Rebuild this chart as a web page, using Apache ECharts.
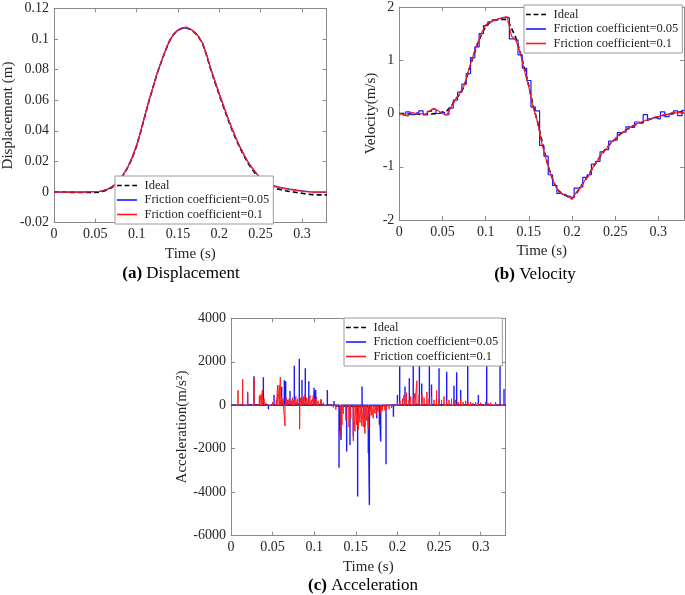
<!DOCTYPE html>
<html><head><meta charset="utf-8">
<script src="https://cdn.jsdelivr.net/npm/echarts@6/dist/echarts.min.js"></script>
<style>html,body{margin:0;padding:0;background:#fff}#c{width:685px;height:595px}</style>
</head><body><div id="c"></div>
<script>
// ---------- DATA ----------
const seriesNames = ['Ideal', 'Friction coefficient=0.05', 'Friction coefficient=0.1'];
const timeMax = 0.33;

// (a) Displacement (m)
const dispT = [0,0.005,0.01,0.015,0.02,0.025,0.03,0.035,0.04,0.045,0.05,0.055,0.06,0.065,0.07,0.075,0.08,0.085,0.09,0.095,0.1,0.105,0.11,0.115,0.12,0.125,0.13,0.135,0.14,0.145,0.15,0.155,0.16,0.165,0.17,0.175,0.18,0.185,0.19,0.195,0.2,0.205,0.21,0.215,0.22,0.225,0.23,0.235,0.24,0.245,0.25,0.255,0.26,0.265,0.27,0.275,0.28,0.285,0.29,0.295,0.3,0.305,0.31,0.315,0.32,0.325,0.33];
const dispIdeal = [0,0,0,-0.0001,-0.0002,-0.0002,-0.0003,-0.0003,-0.0003,-0.0003,-0.0002,0,0.0006,0.0016,0.003,0.005,0.008,0.012,0.0168,0.0228,0.0303,0.0397,0.0497,0.0597,0.0688,0.0778,0.0853,0.0925,0.099,0.1032,0.1057,0.107,0.1073,0.1062,0.1042,0.1012,0.0966,0.0885,0.0794,0.0713,0.0633,0.0557,0.0482,0.0412,0.0347,0.0287,0.0235,0.0186,0.0147,0.0112,0.008,0.0057,0.0041,0.003,0.0021,0.0015,0.0009,0.0004,0,-0.0004,-0.0008,-0.0012,-0.0015,-0.0017,-0.0018,-0.0018,-0.0018];
const dispF005 = [0,0,0,0,0,0,0,0,0.0001,0.0002,0.0003,0.0005,0.001,0.002,0.0035,0.0055,0.0085,0.0125,0.0172,0.0232,0.0306,0.04,0.05,0.06,0.069,0.078,0.0855,0.0927,0.0991,0.1032,0.1057,0.1069,0.1072,0.1064,0.1045,0.1015,0.097,0.089,0.08,0.072,0.064,0.0565,0.049,0.042,0.0355,0.0295,0.0243,0.0195,0.0157,0.0122,0.009,0.0068,0.0053,0.0044,0.0036,0.003,0.0025,0.002,0.0016,0.0012,0.0008,0.0005,0.0002,0,-0.0001,-0.0001,0];
const dispF01 = [0,0,0,0,0,0,0,0,0.0001,0.0002,0.0003,0.0005,0.001,0.002,0.0035,0.0055,0.0085,0.0125,0.0172,0.0232,0.0306,0.04,0.05,0.06,0.069,0.078,0.0855,0.0928,0.0993,0.1035,0.106,0.1073,0.1077,0.1065,0.1045,0.1015,0.097,0.089,0.08,0.072,0.064,0.0565,0.049,0.042,0.0355,0.0295,0.0243,0.0193,0.0155,0.012,0.0088,0.0065,0.005,0.004,0.0032,0.0026,0.0021,0.0017,0.0013,0.0009,0.0006,0.0003,0.0001,0,-0.0001,-0.0001,0];

// (b) Velocity (m/s)
const velT = dispT;
const velIdeal = [0,0,-0.01,0,-0.01,-0.02,-0.02,-0.02,0,-0.01,0.03,0.05,0.13,0.26,0.37,0.5,0.78,1.04,1.28,1.48,1.63,1.71,1.75,1.76,1.77,1.76,1.6,1.42,1.15,0.85,0.52,0.15,-0.15,-0.5,-0.85,-1.12,-1.33,-1.46,-1.52,-1.56,-1.6,-1.5,-1.38,-1.26,-1.14,-0.99,-0.87,-0.75,-0.65,-0.56,-0.48,-0.4,-0.34,-0.29,-0.24,-0.2,-0.17,-0.14,-0.11,-0.08,-0.06,-0.04,-0.015,0,0.01,0.03,0.04];
const velF005 = [0,-0.03,0.03,-0.02,0.01,0.05,-0.02,0.04,0.08,0,0.02,-0.02,0.1,0.25,0.4,0.55,0.75,1.05,1.25,1.5,1.65,1.72,1.76,1.78,1.8,1.8,1.4,1.38,1.1,0.85,0.62,0.12,0.05,-0.6,-0.8,-1.15,-1.35,-1.5,-1.52,-1.55,-1.58,-1.4,-1.38,-1.2,-1.15,-0.95,-0.9,-0.72,-0.68,-0.52,-0.5,-0.36,-0.35,-0.25,-0.26,-0.16,-0.18,-0.02,-0.1,-0.08,-0.1,0.03,-0.06,-0.01,0.05,-0.04,0.06];
const velF01 = [0,-0.02,-0.05,0.02,-0.01,0,-0.02,0.05,0.1,0.05,0,-0.03,0.12,0.27,0.37,0.52,0.8,1.06,1.3,1.5,1.66,1.72,1.75,1.78,1.8,1.82,1.45,1.38,1.15,0.8,0.5,0.12,-0.15,-0.55,-0.85,-1.12,-1.33,-1.47,-1.52,-1.56,-1.61,-1.48,-1.4,-1.25,-1.16,-0.98,-0.88,-0.74,-0.66,-0.55,-0.48,-0.39,-0.34,-0.28,-0.24,-0.19,-0.17,-0.13,-0.11,-0.07,-0.06,-0.03,-0.02,0.01,0.01,0.02,0.02];

// (c) Acceleration (m/s^2): spike times and peak values
const accIdealT = [0,0.05,0.08,0.11,0.13,0.16,0.19,0.22,0.26,0.3,0.33];
const accIdealV = [0,10,45,25,-30,-60,-10,30,15,5,0];
const accF005T = [0.0200,0.0276,0.0389,0.0449,0.0517,0.0609,0.0641,0.0657,0.0709,0.0761,0.0821,0.0853,0.0893,0.0935,0.0998,0.1018,0.1082,0.1158,0.1238,0.1298,0.1322,0.1390,0.1430,0.1470,0.1522,0.1575,0.1610,0.1650,0.1663,0.1751,0.1783,0.1799,0.1863,0.1952,0.2000,0.2027,0.2091,0.2143,0.2190,0.2264,0.2292,0.2384,0.2410,0.2500,0.2592,0.2680,0.2712,0.2760,0.2845,0.2973,0.3073,0.3233,0.3281];
const accF005V = [550,1330,1290,-180,470,850,1150,1100,660,1820,2140,1160,1700,1100,800,700,275,704,200,-2870,-1600,-2130,-1825,-1440,-4200,860,-980,-2200,-4590,-600,-900,-1670,-2715,-525,475,2400,860,1240,2300,2300,1000,2300,950,1700,1545,900,1520,700,2300,475,2300,2300,750];
const accF01T = [0.0084,0.0140,0.0200,0.0276,0.0341,0.0361,0.0377,0.0400,0.0420,0.0440,0.0470,0.0500,0.0545,0.0561,0.0581,0.0593,0.0610,0.0630,0.0649,0.0665,0.0680,0.0700,0.0720,0.0740,0.0760,0.0780,0.0800,0.0825,0.0840,0.0855,0.0870,0.0890,0.0910,0.0930,0.0950,0.0970,0.0990,0.1010,0.1030,0.1050,0.1080,0.1110,0.1150,0.1190,0.1230,0.1260,0.1322,0.1335,0.1350,0.1380,0.1418,0.1440,0.1470,0.1490,0.1510,0.1530,0.1550,0.1570,0.1590,0.1610,0.1630,0.1650,0.1670,0.1690,0.1710,0.1730,0.1750,0.1770,0.1800,0.1820,0.1850,0.1870,0.1900,0.1930,0.1960,0.2000,0.2030,0.2060,0.2080,0.2110,0.2140,0.2160,0.2190,0.2210,0.2234,0.2260,0.2294,0.2320,0.2354,0.2380,0.2410,0.2440,0.2470,0.2500,0.2530,0.2560,0.2590,0.2620,0.2650,0.2680,0.2700,0.2730,0.2760,0.2790,0.2820,0.2850,0.2880,0.2910,0.2940,0.2970,0.3000,0.3030,0.3060,0.3090,0.3120,0.3150,0.3180,0.3210,0.3240,0.3270,0.3300];
const accF01V = [690,1200,620,1290,440,500,700,300,120,-80,-40,150,230,930,920,1290,360,300,-950,350,250,300,200,350,280,400,300,-1100,350,250,400,500,350,300,450,250,480,300,380,200,250,120,80,60,-100,-200,-1450,-900,-400,-700,-1000,-600,-1640,-1200,-900,-1130,-800,-950,-1000,-1300,-700,-1070,-500,-460,-600,-380,-460,-300,-350,-250,-240,-200,-180,-120,-60,150,200,300,480,580,250,400,300,550,1130,450,500,350,610,300,400,250,690,300,250,400,200,250,300,200,250,150,300,150,200,120,150,100,150,100,120,80,150,100,120,80,150,60,100,50,30];

// ---------- CHART ----------
const FONT = 'Liberation Serif';
const AX = '#8a8a8a', TXT = '#262626';
const grids = [
  {left: 50.3, top: 8.3, width: 276.4, height: 214.4},
  {left: 399.3, top: 6.7, width: 284.9, height: 213.3},
  {left: 231, top: 318.3, width: 274.6, height: 217.4}
];
const fmt = v => String(Math.round(v * 1000) / 1000);
function xAxes(gi){
  const base = {type:'value', gridIndex: gi, min: 0, max: timeMax, interval: 0.05,
    axisLine:{show:true, onZero:false, lineStyle:{color:AX, width:1}},
    axisTick:{show:true, inside:true, length:4, lineStyle:{color:AX}},
    splitLine:{show:false}};
  return [
    Object.assign({}, base, {position:'bottom',
      axisLabel:{fontFamily:FONT, fontSize:14, color:TXT, margin:5, showMaxLabel:false, formatter: fmt},
      name:'Time (s)', nameLocation:'middle', nameGap:24,
      nameTextStyle:{fontFamily:FONT, fontSize:15, color:TXT}}),
    Object.assign({}, base, {position:'top', axisLabel:{show:false}})
  ];
}
function yAxes(gi, min, max, interval, name, gap){
  const base = {type:'value', gridIndex: gi, min, max, interval,
    axisLine:{show:true, onZero:false, lineStyle:{color:AX, width:1}},
    axisTick:{show:true, inside:true, length:4, lineStyle:{color:AX}},
    splitLine:{show:false}};
  return [
    Object.assign({}, base, {position:'left',
      axisLabel:{fontFamily:FONT, fontSize:14, color:TXT, margin:5, formatter: fmt},
      name, nameLocation:'middle', nameGap:gap,
      nameTextStyle:{fontFamily:FONT, fontSize:15, color:TXT}}),
    Object.assign({}, base, {position:'right', axisLabel:{show:false}})
  ];
}
const pair = (ts, vs) => ts.map((t, i) => [t, vs[i]]);
function stems(ts, vs){
  const d = [[0, 0]];
  ts.forEach((t, i) => { d.push([t, 0], [t, vs[i]], [t, 0]); });
  d.push([timeMax, 0]);
  return d;
}
const styles = [
  {color:'#000000', width:1.6, type:[5,3]},
  {color:'#1a1aff', width:1.2, type:'solid'},
  {color:'#ff1a1a', width:1.2, type:'solid'}
];
function mk(gi, idx, data, extra){
  return Object.assign({type:'line', name: seriesNames[idx], xAxisIndex: gi*2, yAxisIndex: gi*2,
    data, symbol:'none', showSymbol:false, animation:false,
    lineStyle:Object.assign({}, styles[idx]), itemStyle:{color: styles[idx].color}, z: 2 + idx}, extra || {});
}
const series = [
  mk(0, 0, pair(dispT, dispIdeal)),
  mk(0, 1, pair(dispT, dispF005)),
  mk(0, 2, pair(dispT, dispF01)),
  mk(1, 0, pair(velT, velIdeal)),
  mk(1, 1, pair(velT, velF005), {step:'middle'}),
  mk(1, 2, pair(velT, velF01)),
  mk(2, 0, pair(accIdealT, accIdealV)),
  mk(2, 1, stems(accF005T, accF005V), {lineStyle:{color:'#1a1aff', width:1.4}}),
  mk(2, 2, stems(accF01T, accF01V), {lineStyle:{color:'#ff1a1a', width:1}})
];
const dashIcon = 'path://M0 0H6V2H0Z M9.5 0H15.5V2H9.5Z M19 0H25V2H19Z';
const solidIcon = 'path://M0 0H25V2H0Z';
function legendAt(left, top){
  return {left, top, orient:'vertical',
    data: [{name: seriesNames[0], icon: dashIcon}, {name: seriesNames[1], icon: solidIcon}, {name: seriesNames[2], icon: solidIcon}],
    backgroundColor:'#fff', borderColor:'#9a9a9a', borderWidth:1, borderRadius:0, padding:[3,4,3,2],
    itemWidth:25, itemHeight:1.6, itemGap:1.5, selectedMode:false,
    textStyle:{fontFamily:FONT, fontSize:12.5, color:TXT}, z: 10};
}
const rich = {b:{fontFamily:FONT, fontSize:17, fontWeight:'bold', fill:'#000'}, n:{fontFamily:FONT, fontSize:17, fill:'#000'}};
function panelTitle(x, y, label, word){
  return {type:'text', x, y, z: 20, style:{text:'{b|' + label + '} {n|' + word + '}', rich,
    align:'center', verticalAlign:'middle', fill:'#000', font:'17px ' + FONT}};
}
const chart = echarts.init(document.getElementById('c'), null, {renderer:'canvas'});
chart.setOption({
  animation:false,
  backgroundColor:'#fff',
  grid: grids,
  xAxis: [].concat(xAxes(0), xAxes(1), xAxes(2)),
  yAxis: [].concat(
    yAxes(0, -0.02, 0.12, 0.02, 'Displacement (m)', 35),
    yAxes(1, -2, 2, 1, 'Velocity(m/s)', 18),
    yAxes(2, -6000, 4000, 2000, 'Acceleration(m/s²)', 38)),
  legend: [legendAt(115, 176), legendAt(524, 5), legendAt(344, 318)],
  series,
  graphic: [
    panelTitle(181, 274, '(a)', 'Displacement'),
    panelTitle(535, 275, '(b)', 'Velocity'),
    panelTitle(363, 586, '(c)', 'Acceleration')
  ]
});
</script></body></html>
